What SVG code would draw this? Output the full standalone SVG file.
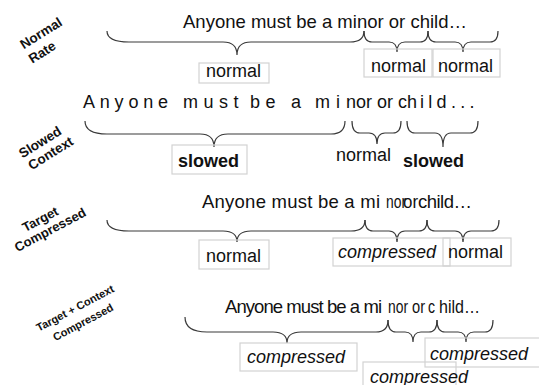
<svg xmlns="http://www.w3.org/2000/svg" width="539" height="385" viewBox="0 0 539 385">
<style>
.s{font-family:"Liberation Sans",Arial,sans-serif;font-size:18.5px;fill:#111}
.b{font-family:"Liberation Sans",Arial,sans-serif;font-size:18px;fill:#111}
.it{font-style:italic}
.bd{font-weight:bold}
.lab{font-family:"Liberation Sans",Arial,sans-serif;font-size:13.5px;font-weight:bold;fill:#111;text-anchor:middle}
.box{fill:none;stroke:#d2d2d2;stroke-width:1.2}
.br{fill:none;stroke:#3a3a3a;stroke-width:1.2}
</style>
<rect width="539" height="385" fill="#fff"/>

<!-- side labels -->
<g id="label-normal-rate">
<text class="lab" transform="translate(41,33) rotate(-32)" y="4.8">Normal</text>
<text class="lab" transform="translate(42,52) rotate(-32)" y="4.8">Rate</text>
</g>
<g id="label-slowed-context">
<text class="lab" transform="translate(40,142) rotate(-32)" y="4.8">Slowed</text>
<text class="lab" transform="translate(50.5,153) rotate(-32)" y="4.8">Context</text>
</g>
<g id="label-target-compressed">
<text class="lab" transform="translate(40,219) rotate(-28)" y="4.8" style="font-size:13px">Target</text>
<text class="lab" transform="translate(50,229.5) rotate(-28)" y="4.8" style="font-size:13px">Compressed</text>
</g>
<g id="label-target-context-compressed">
<text class="lab" transform="translate(75,308) rotate(-28)" y="4" style="font-size:11px">Target + Context</text>
<text class="lab" transform="translate(83,322) rotate(-28)" y="4" style="font-size:11px">Compressed</text>
</g>

<!-- sentences -->
<g id="sentence-1">
<text class="s" x="183" y="28" textLength="284">Anyone must be a minor or child…</text>
</g>
<g id="sentence-2">
<text class="b" y="108">
<tspan x="83" style="letter-spacing:4.8px">Anyone</tspan>
<tspan x="183" style="letter-spacing:5.5px">must</tspan>
<tspan x="250" style="letter-spacing:5.5px">be</tspan>
<tspan x="291">a</tspan>
<tspan x="315" style="letter-spacing:6px">mi</tspan>
<tspan x="346">nor or ch</tspan>
<tspan x="420" style="letter-spacing:4.3px">ild...</tspan>
</text>
</g>
<g id="sentence-3">
<text class="s" y="208">
<tspan x="202" textLength="178">Anyone must be a mi</tspan>
<tspan x="386" textLength="20" lengthAdjust="spacingAndGlyphs">nor</tspan>
<tspan x="403" textLength="15" lengthAdjust="spacingAndGlyphs">or</tspan>
<tspan x="418" textLength="54">child…</tspan>
</text>
</g>
<g id="sentence-4">
<text class="s" y="313">
<tspan x="225" textLength="157">Anyone must be a mi</tspan>
<tspan x="388" textLength="20" lengthAdjust="spacingAndGlyphs">nor</tspan>
<tspan x="412" textLength="13" lengthAdjust="spacingAndGlyphs">or</tspan>
<tspan x="428" textLength="7" lengthAdjust="spacingAndGlyphs">c</tspan>
<tspan x="439" textLength="41" lengthAdjust="spacingAndGlyphs">hild…</tspan>
</text>
</g>

<!-- connectors (braces) -->
<g id="braces">
<path class="br" d="M107,31 Q107,42 129,42 H223 Q237,42 237,55 Q237,42 251,42 H350 Q364,42 364,31"/>
<path class="br" d="M364,31 Q364,42 372,42 H389 Q397,42 397,52 Q397,42 405,42 H420 Q428,42 428,31"/>
<path class="br" d="M428,31 Q428,42 436,42 H455 Q463,42 463,52 Q463,42 471,42 H490 Q498,42 498,31"/>

<path class="br" d="M85,121 Q85,134 107,134 H200 Q214,134 214,147 Q214,134 228,134 H331 Q345,134 345,121"/>
<path class="br" d="M352,121 Q352,133 360,133 H369 Q377,133 377,144 Q377,133 385,133 H393 Q401,133 401,121"/>
<path class="br" d="M407,121 Q407,133 415,133 H435 Q443,133 443,147 Q443,133 451,133 H470 Q478,133 478,121"/>

<path class="br" d="M107,220 Q107,231 129,231 H223 Q237,231 237,242 Q237,231 251,231 H351 Q365,231 365,220"/>
<path class="br" d="M365,220 Q365,231 373,231 H389 Q397,231 397,242 Q397,231 405,231 H419 Q427,231 427,220"/>
<path class="br" d="M427,220 Q427,231 435,231 H455 Q463,231 463,242 Q463,231 471,231 H491 Q499,231 499,220"/>

<path class="br" d="M185,317 Q185,332 207,332 H273 Q287,332 287,343 Q287,332 301,332 H376 Q388,332 388,320"/>
<path class="br" d="M388,320 Q388,332 396,332 H405 Q413,332 413,342 Q413,332 421,332 H429 Q437,332 437,320"/>
<path class="br" d="M437,320 Q437,332 445,332 H458 Q466,332 466,342 Q466,332 474,332 H485 Q493,332 493,320"/>
</g>

<!-- row 1 boxes -->
<g id="r1-normal-1"><rect class="box" x="199" y="63" width="70" height="20"/><text class="b" x="206" y="76.5">normal</text></g>
<g id="r1-normal-2"><rect class="box" x="364" y="49" width="68" height="28"/><text class="b" x="371" y="71.5">normal</text></g>
<g id="r1-normal-3"><rect class="box" x="433" y="49" width="67" height="28"/><text class="b" x="438" y="71.5">normal</text></g>

<!-- row 2 -->
<g id="r2-slowed-1"><rect class="box" x="172" y="145" width="75" height="29"/><text class="b bd" x="178" y="166.5">slowed</text></g>
<g id="r2-normal"><text class="b" x="336" y="161">normal</text></g>
<g id="r2-slowed-2"><text class="b bd" x="403" y="167">slowed</text></g>

<!-- row 3 -->
<g id="r3-normal-1"><rect class="box" x="199" y="240" width="70" height="29"/><text class="b" x="206" y="262">normal</text></g>
<g id="r3-compressed"><rect class="box" x="333" y="238" width="117" height="28"/><text class="b it" x="338" y="258">compressed</text></g>
<g id="r3-normal-2"><rect class="box" x="443" y="238" width="68" height="28"/><text class="b" x="448" y="258">normal</text></g>

<!-- row 4 -->
<g id="r4-compressed-1"><rect class="box" x="240" y="343" width="117" height="28"/><text class="b it" x="247" y="363">compressed</text></g>
<g id="r4-compressed-2"><rect class="box" x="363" y="362" width="93" height="30"/><text class="b it" x="370" y="383">compressed</text></g>
<g id="r4-compressed-3"><rect class="box" x="425" y="338" width="120" height="29"/><text class="b it" x="430" y="360">compressed</text></g>
</svg>
